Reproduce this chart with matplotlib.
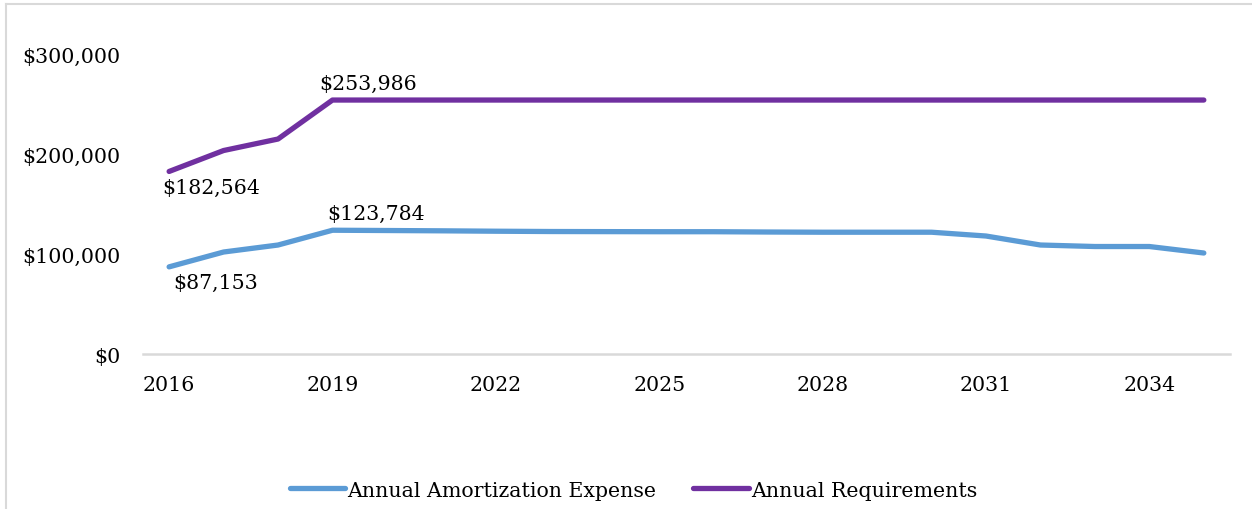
import matplotlib
matplotlib.use("Agg")
import matplotlib.pyplot as plt
from matplotlib.lines import Line2D
from matplotlib.ticker import FuncFormatter

plt.rcParams['font.family'] = ['DejaVu Serif']

years = list(range(2016, 2036))
amortization = [87153, 102000, 109000, 123784, 123500, 123200, 122800, 122500,
                122400, 122300, 122300, 122000, 121800, 121800, 121800, 118000,
                109000, 107500, 107500, 101000]
requirements = [182564, 203500, 215000] + [253986] * 17
tick_years = [2016, 2019, 2022, 2025, 2028, 2031, 2034]
y_ticks = [0, 100000, 200000, 300000]

blue = '#5B9BD5'
purple = '#7030A0'
grid_grey = '#D9D9D9'
fs = 14.8

fig = plt.figure(figsize=(12.52, 5.10), dpi=100)
ax = fig.add_axes([0.1142, 0.3039, 0.8682, 0.5882])

ax.plot(years, amortization, color=blue, lw=3.8, solid_capstyle='round',
        solid_joinstyle='round', label='Annual Amortization Expense')
ax.plot(years, requirements, color=purple, lw=3.8, solid_capstyle='round',
        solid_joinstyle='round', label='Annual Requirements')

ax.set_xlim(2015.52, 2035.48)
ax.set_ylim(0, 300000)
ax.set_xticks(tick_years)
ax.set_yticks(y_ticks)
ax.yaxis.set_major_formatter(FuncFormatter(lambda v, p: f"${v:,.0f}"))
ax.tick_params(axis='both', length=0, labelsize=fs)
ax.tick_params(axis='x', pad=15)
ax.tick_params(axis='y', pad=16)

for s in ['top', 'right', 'left']:
    ax.spines[s].set_visible(False)
ax.spines['bottom'].set_color(grid_grey)
ax.spines['bottom'].set_linewidth(1.8)
ax.spines['bottom'].set_zorder(0)

# value callouts on first point and the 2019 step
def callout(x, y, dx, dy, va):
    ax.annotate(f"${y:,.0f}", (x, y), xytext=(dx, dy), textcoords='offset pixels',
                ha='left', va=va, fontsize=fs)

i19 = years.index(2019)
callout(years[i19], requirements[i19], -13, 7, 'bottom')
callout(years[i19], amortization[i19], -5, 7, 'bottom')
callout(years[0], requirements[0], -7, -6, 'top')
callout(years[0], amortization[0], 4, -6, 'top')

handles = [Line2D([], [], color=blue, lw=3.8, solid_capstyle='round'),
           Line2D([], [], color=purple, lw=3.8, solid_capstyle='round')]
fig.legend(handles, ['Annual Amortization Expense', 'Annual Requirements'],
           loc='center', bbox_to_anchor=(0.506, 0.037), ncol=2, frameon=False,
           fontsize=fs, handlelength=2.7, handletextpad=0.1, columnspacing=1.8)

# chart frame edges
fig.add_artist(Line2D([0.0048, 0.0048], [0, 0.99], transform=fig.transFigure,
                      color=grid_grey, lw=1.5))
fig.add_artist(Line2D([0.0048, 1], [0.99, 0.99], transform=fig.transFigure,
                      color=grid_grey, lw=1.5))

fig.savefig('out.png', dpi=100)
